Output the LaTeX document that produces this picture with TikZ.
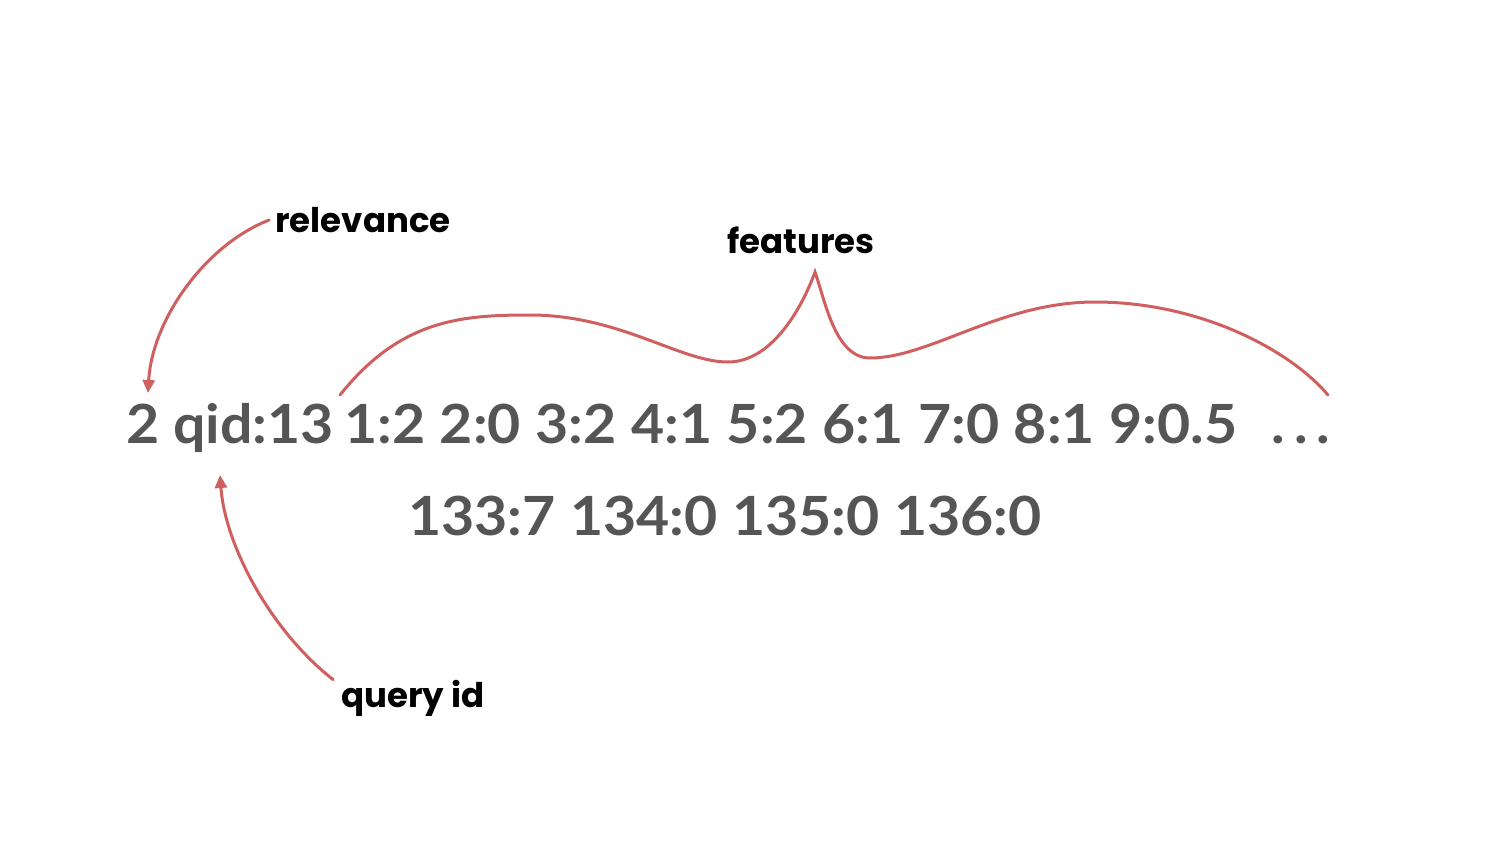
\documentclass[tikz,border=0pt]{standalone}
\usepackage{fontspec}
\setmainfont{Lato}
\newfontfamily\numfam{Lato}[FakeStretch=1.06]
\newfontfamily\labfont{Poppins}
\usetikzlibrary{arrows.meta}
\definecolor{numgray}{RGB}{85,85,85}
\definecolor{arrred}{RGB}{208,96,96}
\newcommand\numfont{\numfam\fontsize{54}{60}\selectfont\bfseries\spaceskip 14.5pt\relax}
\newcommand\wdots{.\kern9pt.\kern9pt.}
\tikzset{
  num/.style={font=\numfont, text=numgray, inner sep=0pt, anchor=base west},
  lab/.style={font=\labfont\fontsize{34}{36}\selectfont\bfseries, text=black, inner sep=0pt},
  conn/.style={draw=arrred, line width=3pt, line cap=round},
  arr/.style={conn, -{Triangle[length=13pt,width=12pt]}}
}
\begin{document}
\begin{tikzpicture}[x=1pt,y=-1pt]
\useasboundingbox[fill=white] (0,0) rectangle (1500,844);
\node[num] (two) at (126,443) {2};
\node[num] (qid) at (173,443) {qid:13};
\node[num] (feats) at ([xshift=10pt]qid.base east) {1:2 2:0 3:2 4:1 5:2 6:1 7:0 8:1 9:0.5\hspace{34pt}\wdots};
\node[num, anchor=base] (line2) at (725,535) {133:7 134:0 135:0 136:0};
\node[lab] (rel) at (363,220) {relevance};
\node[lab] (featlab) at (801,240) {features};
\node[lab] (qidlab) at (413,698) {query id};
\coordinate (relend) at (148,393);
\coordinate (qidend) at (220,475);
\coordinate (bs) at (340,395);
\coordinate (bp) at (815,272);
\coordinate (be) at (1328,395);
\draw[arr] ([xshift=-6pt]rel.west) .. controls (205,245) and (152,320) .. (relend);
\draw[arr] ([xshift=-8pt]qidlab.north west) .. controls (270,630) and (225,545) .. (qidend);
\draw[conn] (bs) .. controls (400,320) and (460,315) .. (530,315)
  .. controls (620,315) and (680,362) .. (728,362)
  .. controls (775,362) and (805,300) .. (bp)
  .. controls (825,300) and (835,358) .. (870,358)
  .. controls (930,358) and (1000,302) .. (1095,302)
  .. controls (1200,302) and (1290,350) .. (be);
\end{tikzpicture}
\end{document}
